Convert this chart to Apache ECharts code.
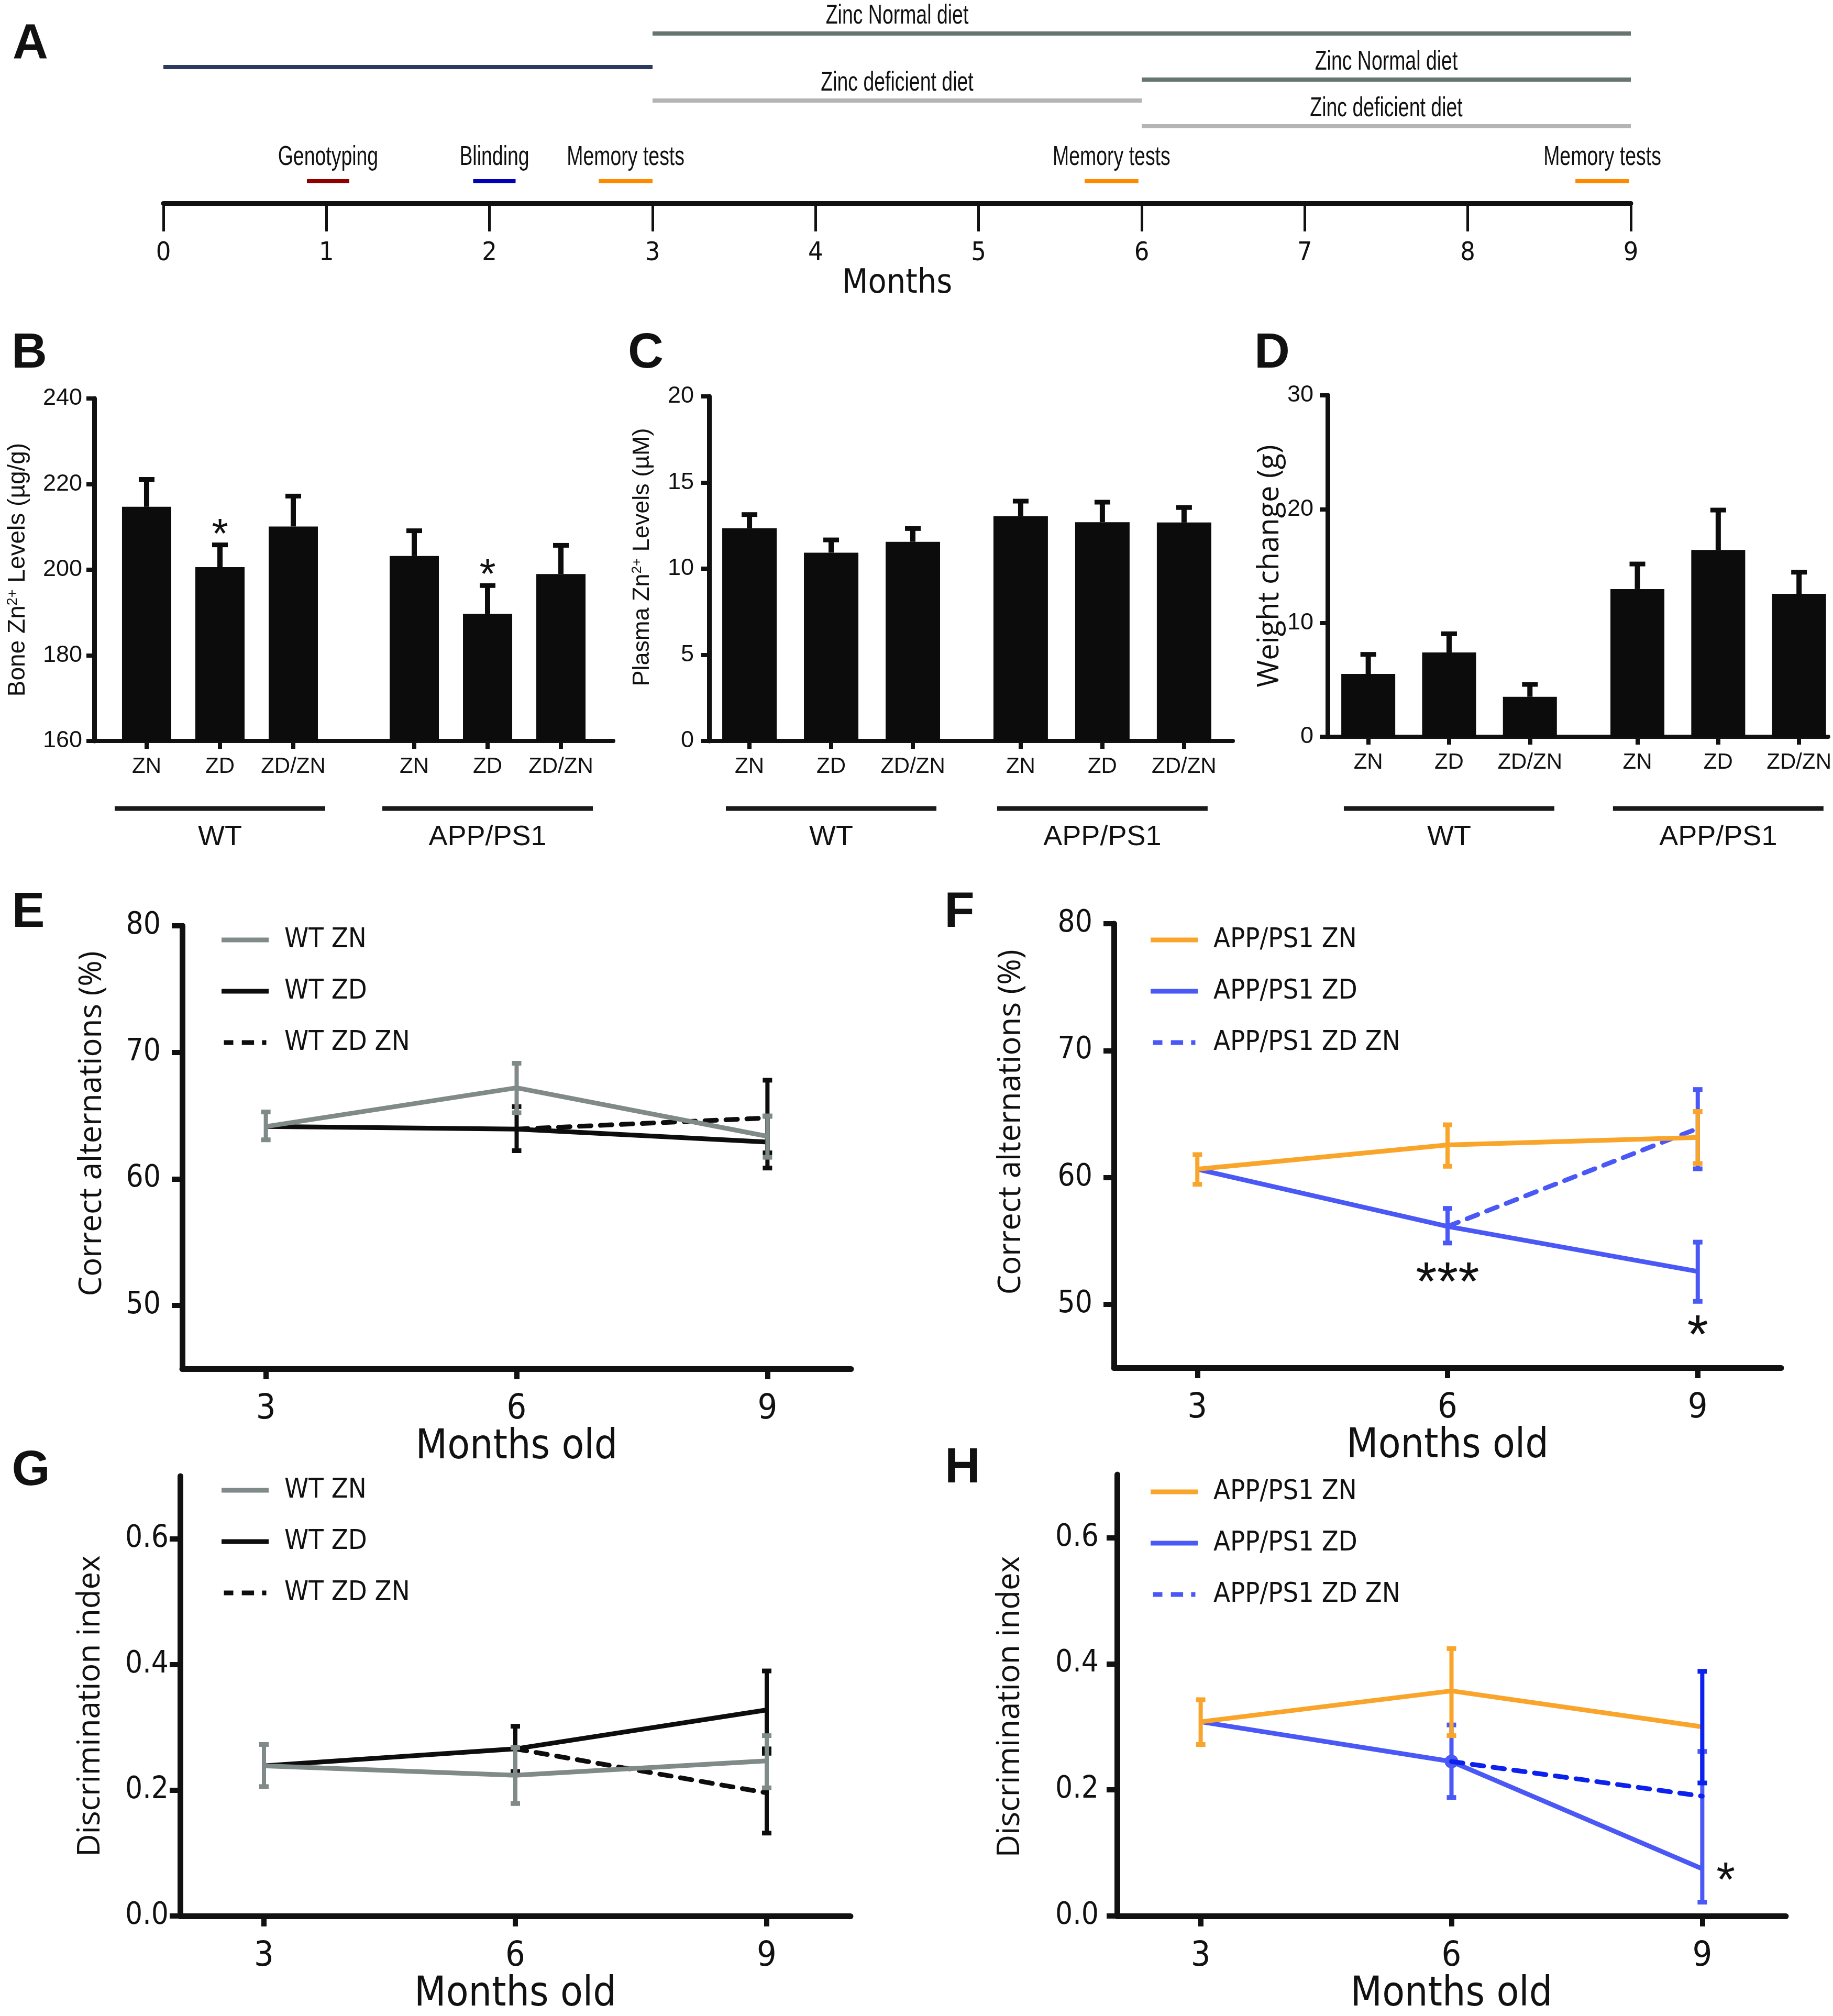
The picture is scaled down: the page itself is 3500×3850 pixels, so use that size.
<!DOCTYPE html>
<html>
<head>
<meta charset="utf-8">
<script src="https://cdn.jsdelivr.net/npm/echarts@6/dist/echarts.min.js"></script>
<style>html,body{margin:0;padding:0;background:#fff}#c{width:3500px;height:3850px}</style>
</head>
<body>
<div id="c"></div>
<script>
// ================= DATA =================
// Panel A – study timeline (months)
const monthTicks = [0,1,2,3,4,5,6,7,8,9];
const dietLabels  = ['', 'Zinc Normal diet', 'Zinc deficient diet', 'Zinc Normal diet', 'Zinc deficient diet'];
const dietStart   = [0, 3, 3, 6, 6];
const dietEnd     = [3, 9, 6, 9, 9];
const dietLane    = [3.30, 1.65, 4.95, 3.92, 6.21];
const dietLabelAt = [1.5, 4.5, 4.5, 7.5, 7.5];
const eventLabels = ['Genotyping', 'Blinding', 'Memory tests', 'Memory tests', 'Memory tests'];
const eventStart  = [0.88, 1.90, 2.67, 5.65, 8.66];
const eventEnd    = [1.14, 2.16, 3.00, 5.98, 8.99];
const eventLane   = 8.92;

// Panels B–D – bars (WT: ZN, ZD, ZD/ZN ; APP/PS1: ZN, ZD, ZD/ZN)
const barCats   = ['ZN', 'ZD', 'ZD/ZN'];
const barGroups = ['WT', 'APP/PS1'];
const boneMean   = [214.7, 200.6, 210.1, 203.2, 189.7, 199.0];
const boneSEM    = [6.4, 5.2, 7.1, 5.9, 6.6, 6.7];
const boneSig    = ['', '*', '', '', '*', ''];
const plasmaMean = [12.35, 10.93, 11.56, 13.05, 12.70, 12.68];
const plasmaSEM  = [0.79, 0.74, 0.77, 0.87, 1.16, 0.87];
const weightMean = [5.52, 7.41, 3.51, 12.98, 16.41, 12.56];
const weightSEM  = [1.72, 1.64, 1.09, 2.20, 3.51, 1.90];

// Panels E–H – time courses
const monthsOld = [3, 6, 9];
// E: Correct alternations (%) WT
const eZN_mean = [64.14, 67.20, 63.37], eZN_lo = [63.09, 65.23, 61.71], eZN_hi = [65.29, 69.14, 64.98];
const eZD_mean = [64.14, 63.94, 62.91], eZD_lo = [null, 62.23, 60.86], eZD_hi = [null, 65.71, 64.96];
const eZDZN_mean = [null, 63.94, 64.82], eZDZN_lo = [null, null, 62.06], eZDZN_hi = [null, null, 67.80];
// F: Correct alternations (%) APP/PS1
const fZN_mean = [60.65, 62.56, 63.15], fZN_lo = [59.46, 60.88, 61.10], fZN_hi = [61.80, 64.15, 65.20];
const fZD_mean = [60.65, 56.14, 52.59], fZD_lo = [null, 54.83, 50.23], fZD_hi = [null, 57.56, 54.90];
const fZDZN_mean = [null, 56.14, 63.86], fZDZN_lo = [null, null, 60.68], fZDZN_hi = [null, null, 66.93];
const fAnnoX = [6, 9], fAnnoY = [52.6, 48.4], fAnnoText = ['***', '*'];
// G: Discrimination index WT
const gZN_mean = [0.239, 0.224, 0.247], gZN_lo = [0.206, 0.179, 0.204], gZN_hi = [0.273, 0.268, 0.287];
const gZD_mean = [0.239, 0.266, 0.328], gZD_lo = [null, 0.230, 0.266], gZD_hi = [null, 0.302, 0.390];
const gZDZN_mean = [null, 0.266, 0.196], gZDZN_lo = [null, null, 0.132], gZDZN_hi = [null, null, 0.259];
// H: Discrimination index APP/PS1
const hZN_mean = [0.308, 0.357, 0.300], hZN_lo = [0.272, 0.286, null], hZN_hi = [0.343, 0.424, null];
const hZD_mean = [0.308, 0.245, 0.075], hZD_lo = [null, 0.188, 0.022], hZD_hi = [null, 0.303, 0.261];
const hZDZN_mean = [null, 0.245, 0.190], hZDZN_lo = [null, null, 0.211], hZDZN_hi = [null, null, 0.388];
const hAnnoX = [9.28], hAnnoY = [0.072], hAnnoText = ['*'];

// ================= STYLE =================
const NARROW = "'Liberation Sans Narrow','Arial Narrow','DejaVu Sans Condensed',sans-serif";
const SANS = "'Liberation Sans',Arial,Helvetica,sans-serif";
const MYR = "'Open Sans','Noto Sans',sans-serif";
const INK = '#111111';
const C_GRAY = '#808a88', C_BLACK = '#0d0d0d', C_ORANGE = '#f9a52b', C_BLUE = '#4a58f5', C_DBLUE = '#0c20ee';
const dietColors = ['#2c3a60', '#667571', '#b4b4b4', '#667571', '#b4b4b4'];
const eventColors = ['#8e0000', '#0000b4', '#ff8a00', '#ff8a00', '#ff8a00'];
const DASH_ICON = 'path://M0,0h20v10h-20z M38,0h26v10h-26z M81,0h9v10h-9z';

const grid = [], xAxis = [], yAxis = [], series = [], legend = [], graphic = [];

// ---------- Panel letters ----------
[['A',58,86],['B',56,676],['C',1233,676],['D',2429,676],['E',54,1744],['F',1832,1744],['G',59,2810],['H',1838,2805]]
.forEach(([t,x,y]) => graphic.push({type:'text', x, y, style:{text:t, font:`bold 94px ${SANS}`, fill:INK, align:'center', verticalAlign:'middle'}}));

// ---------- Panel A ----------
grid.push({left:312, right:386, top:0, height:388});
xAxis.push({gridIndex:0, type:'value', min:0, max:9, interval:1,
  axisLine:{show:true, onZero:false, lineStyle:{color:INK, width:9}},
  axisTick:{show:true, length:54, lineStyle:{color:INK, width:5}},
  axisLabel:{margin:71, fontSize:50, fontFamily:NARROW, color:INK},
  splitLine:{show:false},
  name:'Months', nameLocation:'middle', nameGap:114, nameTextStyle:{fontSize:64, fontFamily:NARROW, color:INK}});
yAxis.push({gridIndex:0, type:'value', min:0, max:10, inverse:true, show:false});

function segRender(colors, labels, labelAt, labelDy, font) {
  return function (params, api) {
    const i = params.dataIndex;
    const a = api.coord([api.value(0), api.value(2)]);
    const b = api.coord([api.value(1), api.value(2)]);
    const ch = [{type:'rect', shape:{x:a[0], y:a[1]-4, width:b[0]-a[0], height:8}, style:{fill:colors[i]}}];
    if (labels[i]) {
      const c = api.coord([labelAt[i], api.value(2)]);
      ch.push({type:'text', x:c[0], y:c[1]-labelDy, scaleX:0.72,
        style:{text:labels[i], font, fill:INK, align:'center', verticalAlign:'middle'}});
    }
    return {type:'group', children:ch};
  };
}
series.push({type:'custom', name:'diets', xAxisIndex:0, yAxisIndex:0, encode:{x:[0,1], y:2},
  data: dietStart.map((s,i) => [s, dietEnd[i], dietLane[i]]),
  renderItem: segRender(dietColors, dietLabels, dietLabelAt, 33, `52px ${SANS}`)});
series.push({type:'custom', name:'events', xAxisIndex:0, yAxisIndex:0, encode:{x:[0,1], y:2},
  data: eventStart.map((s,i) => [s, eventEnd[i], eventLane]),
  renderItem: segRender(eventColors, eventLabels, eventStart.map((s,i)=>(s+eventEnd[i])/2), 45, `52px ${SANS}`)});

// ---------- Panels B–D ----------
const barPanels = [
  {mean:boneMean, sem:boneSEM, sig:boneSig, name:'Bone Zn{s|2+} Levels (µg/g)', nameFont:SANS, nameSize:46, nameGap:123, namePad:[0,0,0,0],
   grid:{left:180, right:2329, top:761, bottom:2435}, xmin:-0.714, xmax:6.364, gap:3.65, barW:94, ymin:160, ymax:240, interval:20, lblMargin:23, lineY:1544, lblY:1599},
  {mean:plasmaMean, sem:plasmaSEM, sig:null, name:'Plasma Zn{s|2+} Levels (µM)', nameFont:SANS, nameSize:45, nameGap:105, namePad:[0,0,0,44],
   grid:{left:1354, right:1146, top:757, bottom:2435}, xmin:-0.494, xmax:5.917, gap:3.32, barW:104, ymin:0, ymax:20, interval:5, lblMargin:29, lineY:1544, lblY:1599},
  {mean:weightMean, sem:weightSEM, sig:null, name:'Weight change (g)', nameFont:MYR, nameSize:56, nameGap:82, namePad:[0,0,0,0],
   grid:{left:2535, right:5, top:755, bottom:2443}, xmin:-0.503, xmax:5.69, gap:3.33, barW:103, ymin:0, ymax:30, interval:10, lblMargin:27, lineY:1544, lblY:1599}
];
barPanels.forEach((p) => {
  const gi = grid.length;
  grid.push(p.grid);
  const pos = [0, 1, 2, p.gap, p.gap + 1, p.gap + 2];
  xAxis.push({gridIndex:gi, type:'value', min:p.xmin, max:p.xmax,
    axisLine:{show:true, onZero:false, lineStyle:{color:INK, width:8}},
    axisTick:{show:true, customValues:pos, length:15, lineStyle:{color:INK, width:8}},
    axisLabel:{customValues:pos, margin:28, fontSize:42, fontFamily:SANS, color:INK,
      formatter:(v) => { const i = pos.findIndex(q => Math.abs(q - v) < 1e-6); return i >= 0 ? barCats[i % 3] : ''; }},
    splitLine:{show:false}});
  yAxis.push({gridIndex:gi, type:'value', min:p.ymin, max:p.ymax, interval:p.interval,
    axisLine:{show:true, onZero:false, lineStyle:{color:INK, width:9}},
    axisTick:{show:true, length:15, lineStyle:{color:INK, width:8}},
    axisLabel:{margin:p.lblMargin, fontSize:45, fontFamily:SANS, color:INK},
    splitLine:{show:false},
    name:p.name, nameLocation:'middle', nameRotate:90, nameGap:p.nameGap,
    nameTextStyle:{fontFamily:p.nameFont, fontSize:p.nameSize, color:INK, padding:p.namePad,
      rich:{s:{fontFamily:p.nameFont, fontSize:Math.round(p.nameSize*0.58), color:INK, verticalAlign:'top'}}}});
  series.push({type:'bar', name:'bars'+gi, xAxisIndex:gi, yAxisIndex:gi, barWidth:p.barW,
    itemStyle:{color:'#0b0c0b'}, data: pos.map((x,i) => [x, p.mean[i]])});
  series.push({type:'custom', name:'barerr'+gi, xAxisIndex:gi, yAxisIndex:gi, encode:{x:0, y:[1,2]}, z:3,
    data: pos.map((x,i) => [x, p.mean[i], p.mean[i] + p.sem[i]]),
    renderItem: function (params, api) {
      const i = params.dataIndex;
      const a = api.coord([api.value(0), api.value(1)]);
      const b = api.coord([api.value(0), api.value(2)]);
      const ch = [
        {type:'line', shape:{x1:a[0], y1:a[1], x2:b[0], y2:b[1]}, style:{stroke:'#0b0c0b', lineWidth:10}},
        {type:'rect', shape:{x:b[0]-15, y:b[1]-4.5, width:30, height:9}, style:{fill:'#0b0c0b'}}
      ];
      if (p.sig && p.sig[i]) ch.push({type:'text', x:b[0], y:b[1]-37+20, style:{text:p.sig[i], font:`80px ${SANS}`, fill:INK, align:'center', verticalAlign:'middle'}});
      return {type:'group', children:ch};
    }});
  series.push({type:'custom', name:'groups'+gi, xAxisIndex:gi, yAxisIndex:gi, encode:{x:0, y:1},
    data: [[1, p.ymin], [p.gap + 1, p.ymin]],
    renderItem: function (params, api) {
      const c = api.coord([api.value(0), api.value(1)]);
      return {type:'group', children:[
        {type:'rect', shape:{x:c[0]-201, y:p.lineY-4.5, width:402, height:9}, style:{fill:'#1a1a1a'}},
        {type:'text', x:c[0], y:p.lblY, style:{text:barGroups[params.dataIndex], font:`54px ${SANS}`, fill:INK, align:'center', verticalAlign:'middle'}}
      ]};
    }});
});

// ---------- Panels E–H ----------
function pts(mean) { return mean.map((v,i) => v == null ? null : [monthsOld[i], v]).filter(Boolean); }
function errs(lo, hi) { return lo.map((v,i) => v == null ? null : [monthsOld[i], v, hi[i]]).filter(Boolean); }
function errRender(color) {
  return function (params, api) {
    const a = api.coord([api.value(0), api.value(1)]);
    const b = api.coord([api.value(0), api.value(2)]);
    return {type:'group', children:[
      {type:'line', shape:{x1:a[0], y1:a[1], x2:b[0], y2:b[1]}, style:{stroke:color, lineWidth:8}},
      {type:'rect', shape:{x:a[0]-9, y:a[1]-4.5, width:18, height:9}, style:{fill:color}},
      {type:'rect', shape:{x:b[0]-9, y:b[1]-4.5, width:18, height:9}, style:{fill:color}}
    ]};
  };
}
const linePanels = [
  {grid:{left:348, right:1875, top:1768, bottom:1236}, ymin:45, ymax:80, yTicks:[50,60,70,80], fmt:(v)=>String(v),
   name:'Correct alternations (%)', nameGap:142, namePad:[0,0,0,90], ylMargin:41,
   legend:{left:418, top:1760},
   lines:[
     {name:'WT ZD', color:C_BLACK, dash:false, mean:eZD_mean, lo:eZD_lo, hi:eZD_hi},
     {name:'WT ZD ZN', color:C_BLACK, dash:true, mean:eZDZN_mean, lo:eZDZN_lo, hi:eZDZN_hi},
     {name:'WT ZN', color:C_GRAY, dash:false, mean:eZN_mean, lo:eZN_lo, hi:eZN_hi}],
   legendNames:['WT ZN','WT ZD','WT ZD ZN'], anno:null},
  {grid:{left:2127, right:99, top:1764, bottom:1238}, ymin:45, ymax:80, yTicks:[50,60,70,80], fmt:(v)=>String(v),
   name:'Correct alternations (%)', nameGap:166, namePad:[0,0,0,90], ylMargin:41,
   legend:{left:2192, top:1760},
   lines:[
     {name:'APP/PS1 ZD', color:C_BLUE, dash:false, mean:fZD_mean, lo:fZD_lo, hi:fZD_hi},
     {name:'APP/PS1 ZD ZN', color:C_BLUE, dash:true, mean:fZDZN_mean, lo:fZDZN_lo, hi:fZDZN_hi},
     {name:'APP/PS1 ZN', color:C_ORANGE, dash:false, mean:fZN_mean, lo:fZN_lo, hi:fZN_hi}],
   legendNames:['APP/PS1 ZN','APP/PS1 ZD','APP/PS1 ZD ZN'], anno:{x:fAnnoX, y:fAnnoY, t:fAnnoText, size:104}},
  {grid:{left:344, right:1876, top:2819, bottom:185}, ymin:0, ymax:0.7, yTicks:[0,0.2,0.4,0.6], fmt:(v)=>v.toFixed(1),
   name:'Discrimination index', nameGap:141, namePad:[0,38,0,0], ylMargin:22,
   legend:{left:418, top:2811},
   lines:[
     {name:'WT ZD', color:C_BLACK, dash:false, mean:gZD_mean, lo:gZD_lo, hi:gZD_hi},
     {name:'WT ZD ZN', color:C_BLACK, dash:true, mean:gZDZN_mean, lo:gZDZN_lo, hi:gZDZN_hi},
     {name:'WT ZN', color:C_GRAY, dash:false, mean:gZN_mean, lo:gZN_lo, hi:gZN_hi}],
   legendNames:['WT ZN','WT ZD','WT ZD ZN'], anno:null},
  {grid:{left:2133, right:90, top:2816, bottom:188}, ymin:0, ymax:0.7, yTicks:[0,0.2,0.4,0.6], fmt:(v)=>v.toFixed(1),
   name:'Discrimination index', nameGap:174, namePad:[0,44,0,0], ylMargin:35,
   legend:{left:2192, top:2814},
   lines:[
     {name:'APP/PS1 ZD', color:C_BLUE, dash:false, mean:hZD_mean, lo:hZD_lo, hi:hZD_hi, dot:1},
     {name:'APP/PS1 ZN', color:C_ORANGE, dash:false, mean:hZN_mean, lo:hZN_lo, hi:hZN_hi},
     {name:'APP/PS1 ZD ZN', color:C_DBLUE, dash:true, mean:hZDZN_mean, lo:hZDZN_lo, hi:hZDZN_hi}],
   legendNames:['APP/PS1 ZN','APP/PS1 ZD','APP/PS1 ZD ZN'], anno:{x:hAnnoX, y:hAnnoY, t:hAnnoText, size:92}}
];
linePanels.forEach((p, k) => {
  const gi = grid.length;
  grid.push(p.grid);
  xAxis.push({gridIndex:gi, type:'value', min:2, max:10,
    axisLine:{show:true, onZero:false, lineStyle:{color:INK, width:11}},
    axisTick:{show:true, customValues:monthsOld, length:20, lineStyle:{color:INK, width:10}},
    axisLabel:{customValues:monthsOld, margin:45, fontSize:66, fontFamily:NARROW, color:INK},
    splitLine:{show:false},
    name:'Months old', nameLocation:'middle', nameGap:95, nameTextStyle:{fontSize:78, fontFamily:NARROW, color:INK}});
  yAxis.push({gridIndex:gi, type:'value', min:p.ymin, max:p.ymax,
    axisLine:{show:true, onZero:false, lineStyle:{color:INK, width:11}},
    axisTick:{show:true, customValues:p.yTicks, length:20, lineStyle:{color:INK, width:10}},
    axisLabel:{customValues:p.yTicks, margin:p.ylMargin, fontSize:58, fontFamily:NARROW, color:INK, formatter:p.fmt},
    splitLine:{show:false},
    name:p.name, nameLocation:'middle', nameRotate:90, nameGap:p.nameGap,
    nameTextStyle:{fontFamily:MYR, fontSize:60, color:INK, padding:p.namePad}});
  p.lines.forEach((s, j) => {
    const data = pts(s.mean).map((d) => {
      if (s.dot != null && d[0] === monthsOld[s.dot]) return {value:d, symbol:'circle', symbolSize:26};
      return d;
    });
    series.push({type:'line', name:s.name, xAxisIndex:gi, yAxisIndex:gi, z:2 + j*2,
      symbol:'none', showSymbol:true, data, color:s.color, itemStyle:{color:s.color},
      lineStyle:{color:s.color, width:9, type: s.dash ? [22,18] : 'solid', cap: s.dash ? 'round' : 'butt'}});
    series.push({type:'custom', name:'err'+gi+'_'+j, xAxisIndex:gi, yAxisIndex:gi, encode:{x:0, y:[1,2]}, z:3 + j*2,
      data: errs(s.lo, s.hi), renderItem: errRender(s.color)});
  });
  if (p.anno) {
    const a = p.anno;
    series.push({type:'custom', name:'anno'+gi, xAxisIndex:gi, yAxisIndex:gi, encode:{x:0, y:1}, z:20,
      data: a.x.map((x,i) => [x, a.y[i]]),
      renderItem: function (params, api) {
        const c = api.coord([api.value(0), api.value(1)]);
        return {type:'text', x:c[0], y:c[1] + a.size*0.25, style:{text:a.t[params.dataIndex], font:`${a.size}px ${SANS}`, fill:INK, align:'center', verticalAlign:'middle'}};
      }});
  }
  const dashedName = p.legendNames[2];
  legend.push({left:p.legend.left, top:p.legend.top, orient:'vertical', selectedMode:false,
    itemWidth:90, itemHeight:9, itemGap:38,
    textStyle:{fontFamily:NARROW, fontSize:52, color:INK, lineHeight:60, padding:[0,0,0,25]},
    data:p.legendNames.map(n => ({name:n, icon: n === dashedName ? DASH_ICON : 'rect'}))});
});

const chart = echarts.init(document.getElementById('c'), null, {renderer:'canvas', width:3500, height:3850});
chart.setOption({
  backgroundColor:'#ffffff',
  animation:false,
  grid, xAxis, yAxis, series, legend, graphic
});
</script>
</body>
</html>
